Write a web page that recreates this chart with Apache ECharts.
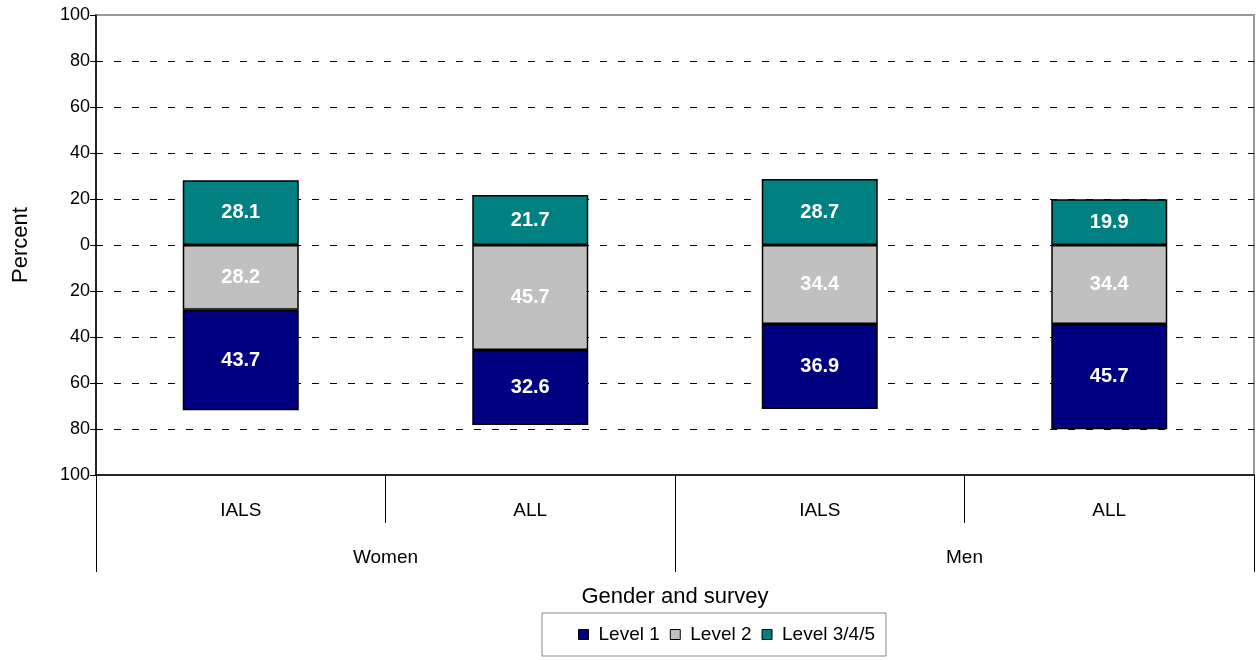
<!DOCTYPE html>
<html>
<head>
<meta charset="utf-8">
<script src="https://cdn.jsdelivr.net/npm/echarts@6/dist/echarts.min.js"></script>
<style>
  html, body { margin: 0; padding: 0; background: #fff; }
  #main { width: 1258px; height: 660px; }
</style>
</head>
<body>
<div id="main"></div>
<script>
var surveys = ['IALS', 'ALL', 'IALS', 'ALL'];
var genders = ['Women', 'Men'];
var level1 = [43.7, 32.6, 36.9, 45.7];
var level2 = [28.2, 45.7, 34.4, 34.4];
var level345 = [28.1, 21.7, 28.7, 19.9];
var yTicks = [-100, -80, -60, -40, -20, 0, 20, 40, 60, 80, 100];

var myChart = echarts.init(document.getElementById('main'));

var font = 'Arial, "Liberation Sans", sans-serif';

function neg(arr) {
    return arr.map(function (v) { return -v; });
}

function barLabel() {
    return {
        show: true,
        color: '#fff',
        fontWeight: 'bold',
        fontSize: 20,
        fontFamily: font,
        formatter: function (p) { return Math.abs(p.value).toFixed(1); }
    };
}

var option = {
    animation: false,
    grid: {
        left: 96, right: 4, top: 15, bottom: 185,
        show: true,
        borderColor: '#999',
        borderWidth: 2
    },
    legend: {
        data: ['Level 1', 'Level 2', 'Level 3/4/5'],
        left: 542,
        top: 613,
        padding: [12, 11, 12, 36],
        itemGap: 10,
        itemWidth: 10,
        itemHeight: 10,
        icon: 'rect',
        itemStyle: { borderColor: '#000', borderWidth: 1 },
        borderColor: '#888',
        borderWidth: 1,
        textStyle: { fontSize: 19, fontFamily: font, color: '#000', padding: [0, 0, 0, 5] }
    },
    xAxis: [
        {
            type: 'category',
            data: surveys,
            position: 'bottom',
            axisLine: { onZero: false, lineStyle: { color: '#000', width: 1.5 } },
            axisTick: { show: true, interval: 0, length: 48, lineStyle: { color: '#000' } },
            axisLabel: { margin: 26, fontSize: 19, fontFamily: font, color: '#000' }
        },
        {
            type: 'category',
            data: genders,
            position: 'bottom',
            axisLine: { show: false, onZero: false },
            axisTick: { show: true, interval: 0, length: 97, lineStyle: { color: '#000' } },
            axisLabel: { margin: 73, fontSize: 19, fontFamily: font, color: '#000' },
            name: 'Gender and survey',
            nameLocation: 'middle',
            nameGap: 111,
            nameTextStyle: { fontSize: 22, fontFamily: font, color: '#000' }
        }
    ],
    yAxis: {
        type: 'value',
        min: yTicks[0],
        max: yTicks[yTicks.length - 1],
        interval: 20,
        name: 'Percent',
        nameLocation: 'middle',
        nameRotate: 90,
        nameGap: 64,
        nameTextStyle: { fontSize: 22, fontFamily: font, color: '#000' },
        axisLine: { show: true, lineStyle: { color: '#000', width: 1.5 } },
        axisTick: { show: true, length: 6, lineStyle: { color: '#000' } },
        axisLabel: {
            margin: 6,
            fontSize: 18,
            fontFamily: font,
            color: '#000',
            formatter: function (v) { return Math.abs(v); }
        },
        splitLine: {
            showMinLine: false,
            showMaxLine: false,
            lineStyle: { color: '#000', type: [7, 11], width: 1 }
        }
    },
    series: [
        {
            name: 'Level 2',
            type: 'bar',
            stack: 'total',
            barWidth: 116,
            data: neg(level2),
            itemStyle: { color: '#C0C0C0', borderColor: '#000', borderWidth: 1.5 },
            label: barLabel()
        },
        {
            name: 'Level 1',
            type: 'bar',
            stack: 'total',
            barWidth: 116,
            data: neg(level1),
            itemStyle: { color: '#000080', borderColor: '#000', borderWidth: 1.5 },
            label: barLabel()
        },
        {
            name: 'Level 3/4/5',
            type: 'bar',
            stack: 'total',
            barWidth: 116,
            data: level345,
            itemStyle: { color: '#008080', borderColor: '#000', borderWidth: 1.5 },
            label: barLabel()
        }
    ]
};

myChart.setOption(option);
window.onresize = function () {
    myChart.resize();
};
</script>
</body>
</html>
